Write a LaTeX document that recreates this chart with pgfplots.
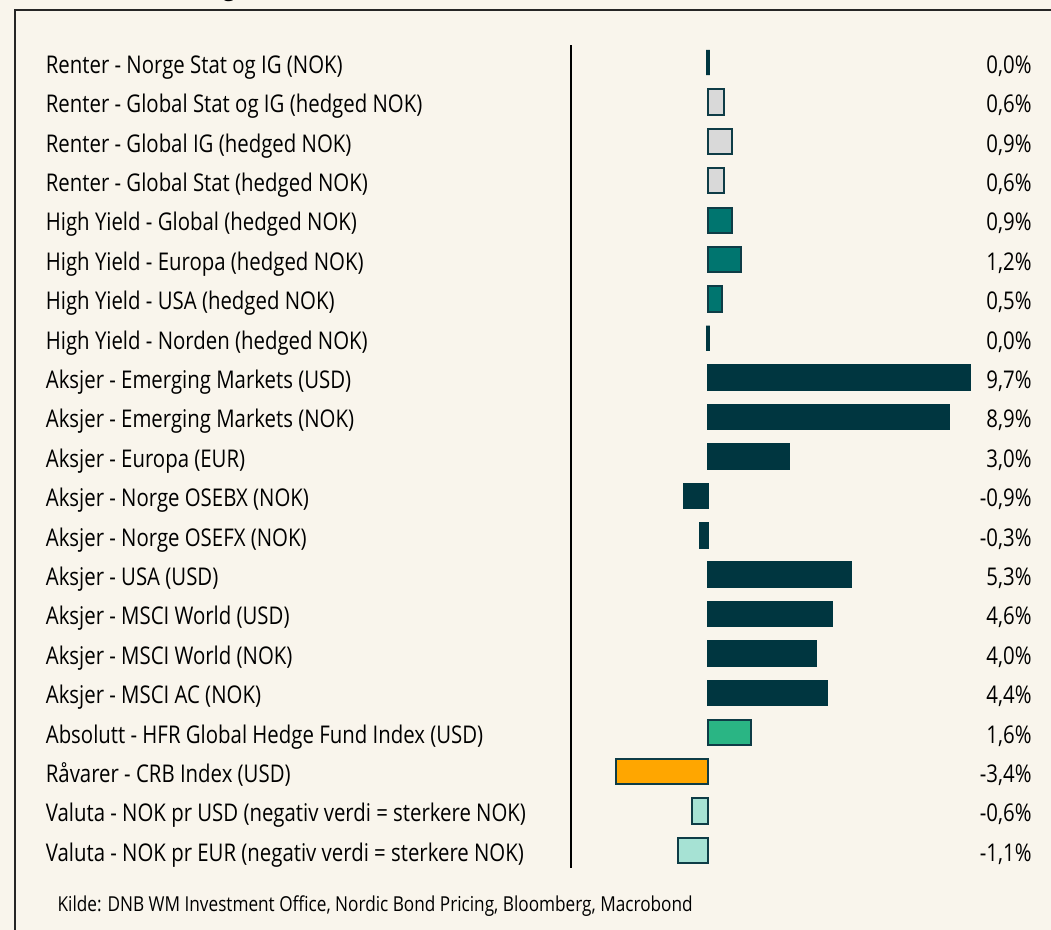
\documentclass[border=0pt]{standalone}
\usepackage{fontspec}
\setmainfont[FakeStretch=0.835]{Open Sans}
\usepackage{pgfplots}
\usepackage{pgfplotstable}
\pgfplotsset{compat=1.18}

\definecolor{bg}{RGB}{249,245,236}
\definecolor{edge}{RGB}{14,60,70}
\definecolor{darkb}{RGB}{0,54,64}
\definecolor{hyteal}{RGB}{0,117,111}
\definecolor{lgray}{RGB}{217,217,217}
\definecolor{hfgreen}{RGB}{42,181,132}
\definecolor{raworange}{RGB}{255,166,0}
\definecolor{aqua}{RGB}{166,226,212}

\pgfplotstableread[col sep=semicolon]{
i;v;lab;name
0;0.0;0,0;Renter - Norge Stat og IG (NOK)
1;0.6;0,6;Renter - Global Stat og IG (hedged NOK)
2;0.9;0,9;Renter - Global IG (hedged NOK)
3;0.6;0,6;Renter - Global Stat (hedged NOK)
4;0.9;0,9;High Yield - Global (hedged NOK)
5;1.2;1,2;High Yield - Europa (hedged NOK)
6;0.5;0,5;High Yield - USA (hedged NOK)
7;0.0;0,0;High Yield - Norden (hedged NOK)
8;9.7;9,7;Aksjer - Emerging Markets (USD)
9;8.9;8,9;Aksjer - Emerging Markets (NOK)
10;3.0;3,0;Aksjer - Europa (EUR)
11;-0.9;-0,9;Aksjer - Norge OSEBX (NOK)
12;-0.3;-0,3;Aksjer - Norge OSEFX (NOK)
13;5.3;5,3;Aksjer - USA (USD)
14;4.6;4,6;Aksjer - MSCI World (USD)
15;4.0;4,0;Aksjer - MSCI World (NOK)
16;4.4;4,4;Aksjer - MSCI AC (NOK)
17;1.6;1,6;Absolutt - HFR Global Hedge Fund Index (USD)
18;-3.4;-3,4;Råvarer - CRB Index (USD)
19;-0.6;-0,6;Valuta - NOK pr USD (negativ verdi = sterkere NOK)
20;-1.1;-1,1;Valuta - NOK pr EUR (negativ verdi = sterkere NOK)
}\data

\begin{document}
\begin{tikzpicture}
\useasboundingbox (0,0) rectangle (525.5pt,465pt);
\fill[bg] (0,0) rectangle (525.5pt,465pt);
% cut-off title descender
\node[anchor=base west, inner sep=0, font=\fontsize{15pt}{18pt}\selectfont] at (111pt,467.5pt) {g};
% frame
\draw[line width=1pt, black!85] (7.5pt,-1pt) -- (7.5pt,460pt) -- (527pt,460pt);
\begin{axis}[
  at={(0,0)}, anchor=south west,
  scale only axis, width=525.5pt, height=465pt,
  xmin=-26.126, xmax=12.657,
  ymin=-1.5863, ymax=22.0178,
  y dir=reverse,
  enlargelimits=false, clip=false,
  axis line style={draw=none},
  xtick=\empty,
  ytick={0,...,20},
  yticklabels from table={\data}{name},
  ytick style={draw=none},
  yticklabel style={anchor=base west, inner sep=0pt, xshift=27.0pt, yshift=-5.4pt,
    font=\fontsize{12.2pt}{14pt}\selectfont},
  xbar, bar width=12.6pt, bar shift=0pt,
]
\addplot[xbar, fill=darkb, draw=darkb, line width=1.6pt] coordinates {(0.0,0)};
\addplot[xbar, fill=lgray, draw=edge, line width=1pt] coordinates {(0.6,1) (0.9,2) (0.6,3)};
\addplot[xbar, fill=hyteal, draw=edge, line width=1pt] coordinates {(0.9,4) (1.2,5) (0.5,6)};
\addplot[xbar, fill=darkb, draw=darkb, line width=1.6pt] coordinates {(0.0,7)};
\addplot[xbar, fill=darkb, draw=darkb, line width=0.6pt] coordinates {(9.7,8) (8.9,9) (3.0,10) (-0.9,11) (-0.3,12) (5.3,13) (4.6,14) (4.0,15) (4.4,16)};
\addplot[xbar, fill=hfgreen, draw=edge, line width=1pt] coordinates {(1.6,17)};
\addplot[xbar, fill=raworange, draw=edge, line width=1pt] coordinates {(-3.4,18)};
\addplot[xbar, fill=aqua, draw=edge, line width=1pt] coordinates {(-0.6,19) (-1.1,20)};
% value labels
\addplot[draw=none, mark=none, forget plot,
  point meta=explicit symbolic,
  nodes near coords={\pgfplotspointmeta\%},
  every node near coord/.append style={anchor=base east, inner sep=0pt, yshift=-5.4pt,
    font=\fontsize{12.2pt}{14pt}\selectfont, text=black}]
  table[x expr=11.953, y=i, meta=lab] {\data};
% separator
\draw[line width=1pt, black] (axis cs:-5.055,-0.444) -- (axis cs:-5.055,20.444);
\end{axis}
\node[anchor=base west, inner sep=0, font=\fontsize{10.3pt}{12pt}\selectfont] at (28.6pt,9pt)
  {Kilde: DNB WM Investment Office, Nordic Bond Pricing, Bloomberg, Macrobond};
\end{tikzpicture}
\end{document}
